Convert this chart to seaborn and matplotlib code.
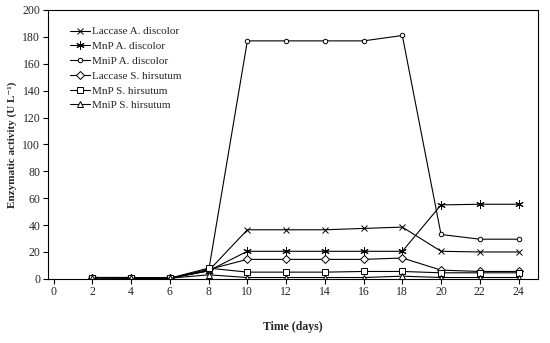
import numpy as np
import pandas as pd
import matplotlib
matplotlib.use("Agg")
import matplotlib.pyplot as plt
import seaborn as sns

days = [2, 4, 6, 8, 10, 12, 14, 16, 18, 20, 22, 24]
laccase_ad = [1, 1, 0.5, 6, 36.5, 36.5, 36.5, 37.5, 38.5, 20.5, 20, 20]
mnp_ad = [1, 0.5, 0.5, 6, 20.5, 20.5, 20.5, 20.5, 20.5, 55, 55.5, 55.5]
mnip_ad = [1, 1, 0.5, 6, 177, 177, 177, 177, 181, 33, 29.5, 29.5]
laccase_sh = [1, 0.5, 0.5, 7, 14.5, 14.5, 14.5, 14.5, 15.5, 6.5, 5.5, 5.5]
mnp_sh = [1, 1, 0.5, 8, 5, 5, 5, 5.5, 5.5, 4.5, 4.5, 4.5]
mnip_sh = [0.5, 0.5, 0.5, 3, 1, 1, 1, 1, 2, 1, 1, 1]

series = ["Laccase A. discolor", "MnP A. discolor", "MniP A. discolor",
          "Laccase S. hirsutum", "MnP S. hirsutum", "MniP S. hirsutum"]
values = [laccase_ad, mnp_ad, mnip_ad, laccase_sh, mnp_sh, mnip_sh]
markers = ["x", (6, 2, 0), "o", "D", "s", "^"]
msizes = [5, 6, 3.2, 4, 4, 4]

sns.set_theme(style="ticks")
plt.rcParams["font.family"] = ["Liberation Serif", "DejaVu Serif"]

fig = plt.figure(figsize=(5.5, 3.43), dpi=100)
ax = fig.add_axes([0.087, 0.187, 0.891, 0.784])

for name, vals, mk, ms in zip(series, values, markers, msizes):
    df = pd.DataFrame({"day": days, "val": vals})
    sns.lineplot(data=df, x="day", y="val", ax=ax, color="black", linewidth=0.8,
                 marker=mk, markersize=ms, markerfacecolor="white",
                 markeredgecolor="black", markeredgewidth=0.7, label=name)

ax.set_xlim(-0.3, 25)
ax.set_ylim(0, 200)
ax.set_xticks(range(0, 25, 2))
ax.set_yticks(range(0, 201, 20))
ax.tick_params(labelsize=8.5, length=3.5, width=0.8, color="black", pad=2)
for s in ax.spines.values():
    s.set_color("black")
    s.set_linewidth(0.8)
ax.set_xlabel("Time (days)", fontsize=8.5, fontweight="bold", labelpad=16)
ax.set_ylabel("Enzymatic activity (U L\u207b\u00b9)", fontsize=8, fontweight="bold")
ax.yaxis.set_label_coords(-0.062, 0.5)
leg = ax.legend(loc="upper left", bbox_to_anchor=(0.025, 0.975), frameon=False,
                fontsize=8, handlelength=1.8, handletextpad=0.2, labelspacing=0.45)

fig.savefig("out.png", dpi=100)
